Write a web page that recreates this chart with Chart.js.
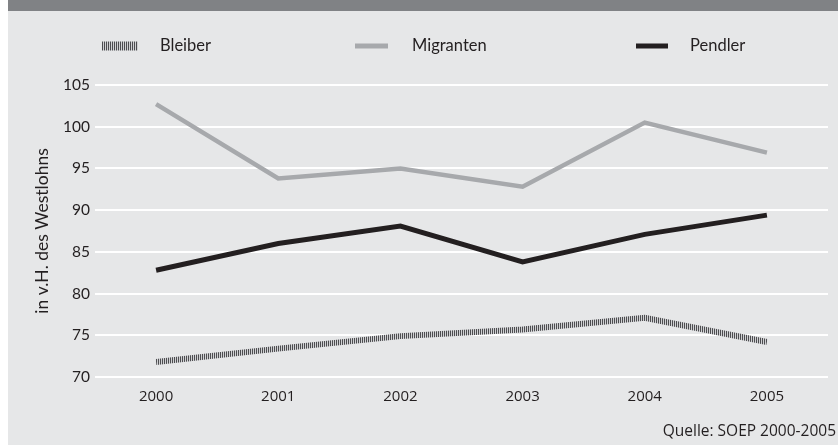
<!DOCTYPE html>
<html><head><meta charset="utf-8">
<script src="https://cdn.jsdelivr.net/npm/chart.js@4"></script>
<style>html,body{margin:0;padding:0;background:#fff}#wrap{width:838px;height:445px}</style>
</head><body><div id="wrap"><canvas id="c" width="838" height="445"></canvas></div>
<script>
const years = ['2000','2001','2002','2003','2004','2005'];
const bleiber = [71.8, 73.4, 74.9, 75.7, 77.1, 74.2];
const migranten = [102.7, 93.8, 95.0, 92.8, 100.5, 96.9];
const pendler = [82.8, 86.0, 88.1, 83.8, 87.1, 89.4];
const seriesNames = ['Bleiber', 'Migranten', 'Pendler'];
const yTitle = 'in v.H. des Westlohns';
const sourceText = 'Quelle: SOEP 2000-2005';

// hatched pattern for Bleiber
const pc = document.createElement('canvas');
pc.width = 2; pc.height = 1;
const pctx = pc.getContext('2d');
pctx.fillStyle = '#4d4d50'; pctx.fillRect(0,0,1,1);
pctx.fillStyle = '#d0d1d3'; pctx.fillRect(1,0,1,1);
const hatch = pctx.createPattern(pc, 'repeat');

const bgPlugin = {
  id: 'bg',
  beforeDraw(chart) {
    const ctx = chart.ctx;
    ctx.save();
    ctx.fillStyle = '#ffffff'; ctx.fillRect(0,0,838,445);
    ctx.fillStyle = '#e6e7e8'; ctx.fillRect(8,11,830,434);
    ctx.fillStyle = '#808285'; ctx.fillRect(8,0,830,11);
    ctx.restore();
  },
  afterDraw(chart) {
    const ctx = chart.ctx;
    ctx.save();
    // legend
    const sx = [102, 355, 636], sw = [36, 33, 32], sh = [9, 5, 5], gap = [22, 24, 22];
    chart.data.datasets.forEach((ds, i) => {
      ctx.fillStyle = ds.borderColor;
      ctx.fillRect(sx[i], 46 - sh[i]/2, sw[i], sh[i]);
      ctx.fillStyle = '#231f20';
      ctx.font = '16.5px Lato';
      ctx.textBaseline = 'middle';
      ctx.textAlign = 'left';
      ctx.fillText(ds.label, sx[i] + sw[i] + gap[i], 46);
    });
    // source
    ctx.font = '15.5px "Open Sans"';
    ctx.fillStyle = '#231f20';
    ctx.textAlign = 'right';
    ctx.textBaseline = 'middle';
    ctx.fillText(sourceText, 836, 432);
    ctx.restore();
  }
};

new Chart(document.getElementById('c'), {
  type: 'line',
  data: {
    labels: years,
    datasets: [
      {label: seriesNames[0], data: bleiber, borderColor: hatch, borderWidth: 6, pointRadius: 0, tension: 0, borderCapStyle: 'butt', borderJoinStyle: 'miter'},
      {label: seriesNames[1], data: migranten, borderColor: '#a7a9ac', borderWidth: 4.5, pointRadius: 0, tension: 0, borderCapStyle: 'butt', borderJoinStyle: 'miter'},
      {label: seriesNames[2], data: pendler, borderColor: '#231f20', borderWidth: 5, pointRadius: 0, tension: 0, borderCapStyle: 'butt', borderJoinStyle: 'miter'}
    ]
  },
  options: {
    responsive: false,
    animation: false,
    events: [],
    layout: {padding: {left: 0, top: 85, right: 10, bottom: 38}},
    plugins: {legend: {display: false}, tooltip: {enabled: false}, title: {display: false}},
    scales: {
      x: {
        offset: true,
        grid: {display: false, drawTicks: false},
        border: {display: false},
        ticks: {color: '#231f20', font: {family: 'Open Sans', size: 15}, padding: 11, maxRotation: 0},
        afterFit(s) { s.height = 30; }
      },
      y: {
        min: 70, max: 105,
        ticks: {stepSize: 5, color: '#231f20', font: {family: 'Lato', size: 15.5}, padding: 5},
        grid: {color: '#ffffff', lineWidth: 2, drawTicks: false},
        border: {display: false},
        title: {display: true, text: yTitle, color: '#231f20', font: {family: 'Lato', size: 17.5}, padding: {top: 32, bottom: 0}},
        afterFit(s) { s.width = 95; }
      }
    }
  },
  plugins: [bgPlugin]
});
</script></body></html>
